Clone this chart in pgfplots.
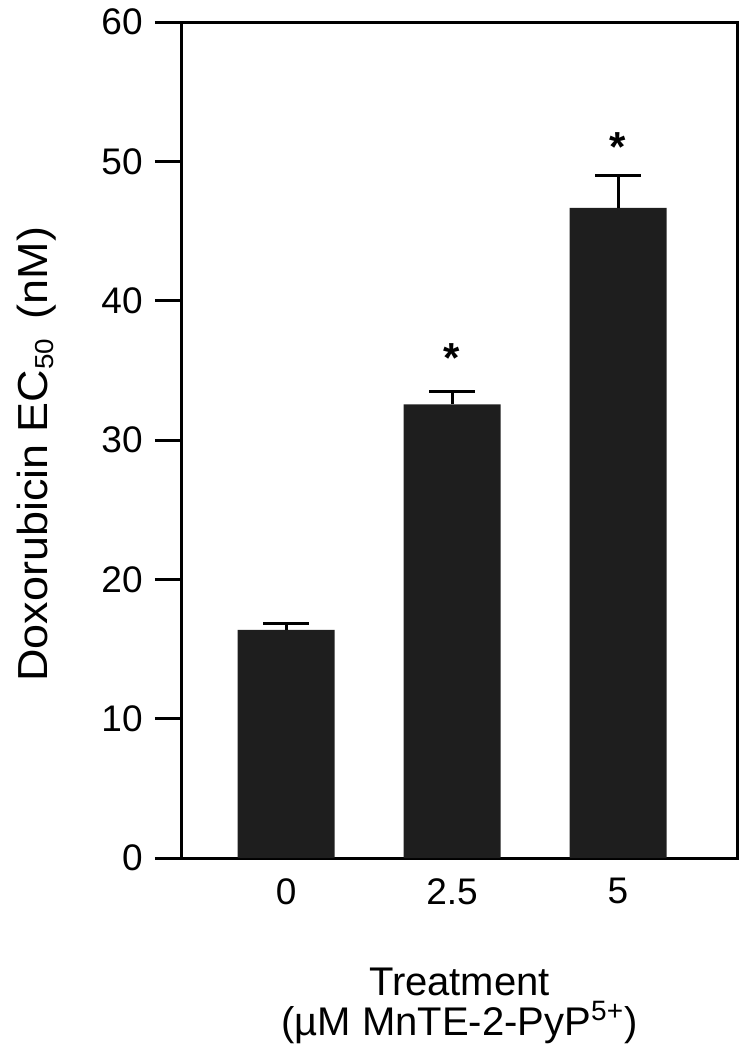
\documentclass[border=0pt]{standalone}
\usepackage{fontspec}
\setmainfont{Liberation Sans}
\newfontfamily\ylabfont[FakeStretch=1.07]{Liberation Sans}
\usepackage{pgfplots}
\pgfplotsset{compat=1.18}
\definecolor{barfill}{RGB}{30,30,30}

\begin{document}
\begin{tikzpicture}
  \useasboundingbox (-91pt,-96pt) rectangle (280pt,429pt);
  \begin{axis}[
    scale only axis,
    width=277.5pt, height=418pt,
    at={(0,0)}, anchor=south west,
    xmin=-0.627, xmax=2.717,
    ymin=0, ymax=60,
    ytick={0,10,...,60},
    xtick={0,1,2},
    xticklabels={0,2.5,5},
    axis line style={line width=1.5pt,black},
    ytick pos=left,
    tick align=outside,
    major tick length=13.5pt,
    ytick style={line width=1.5pt,black},
    xtick style={draw=none},
    /pgf/number format/assume math mode=true,
    ticklabel style={font=\fontsize{18.5}{20}\selectfont, inner sep=0pt},
    xticklabel style={anchor=north, yshift=3.5pt},
    yticklabel style={anchor=east, xshift=-6pt},
    xlabel={Treatment\\(µM MnTE-2-PyP\textsuperscript{5+})},
    xlabel style={at={(axis description cs:0.5,0)}, anchor=north,
      inner sep=0pt, yshift=-55pt, align=center,
      font=\fontsize{20}{20}\selectfont},
    ylabel={Doxorubicin EC\textsubscript{\fontsize{13}{13}\selectfont 50}\hspace{3pt} (nM)},
    ylabel style={at={(axis description cs:-0.243,0.483)}, anchor=base,
      inner sep=0pt, font=\ylabfont\fontsize{21}{24}\selectfont},
    clip=false,
  ]
    % bars with upward SEM
    \addplot[ybar, bar width=48.5pt, fill=barfill, draw=none,
      error bars/.cd, y dir=plus, y explicit,
      error bar style={line width=1.5pt,black},
      error mark options={rotate=90, mark size=11.5pt, line width=1.5pt, black}]
      coordinates {
        (0,16.37) +- (0,0.45)
        (1,32.55) +- (0,0.95)
        (2,46.66) +- (0,2.3)
      };
    % significance markers
    \addplot[draw=none, mark=none,
      nodes near coords={*},
      every node near coord/.style={anchor=base, inner sep=0pt,
        font=\fontsize{21}{21}\selectfont\bfseries}]
      coordinates {(1,34.85) (2,50.0)};
  \end{axis}
\end{tikzpicture}
\end{document}
